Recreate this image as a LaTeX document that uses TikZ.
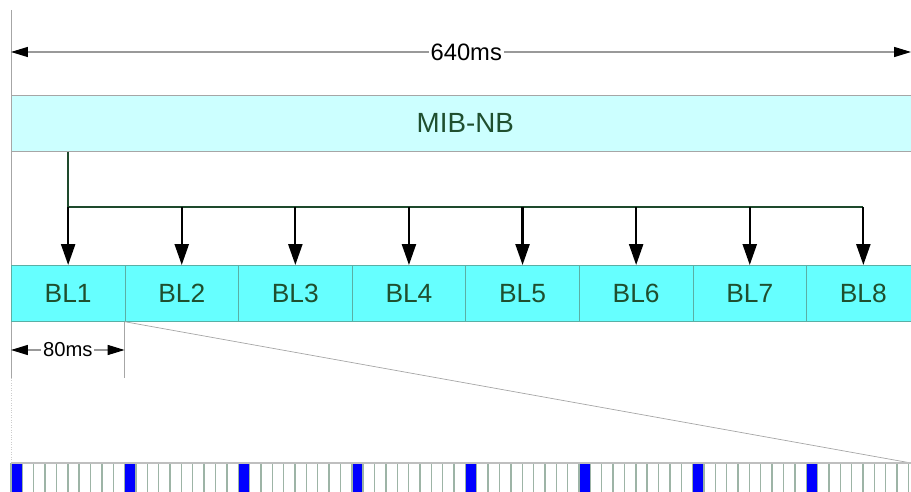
\documentclass[tikz,border=0pt]{standalone}
\usepackage{fontspec}
\setmainfont{Liberation Sans}
\usepackage{xcolor}
\usetikzlibrary{positioning,calc,arrows.meta}
\definecolor{mibfill}{HTML}{CCFFFF}
\definecolor{blfill}{HTML}{66FFFF}
\definecolor{txtgreen}{HTML}{1F4F2F}
\definecolor{linegreen}{HTML}{1E4A2C}
\definecolor{blline}{HTML}{5AAFA5}
\definecolor{gridcol}{HTML}{9DB4A6}
\tikzset{
  mibbox/.style={draw=gray!70, fill=mibfill, text=txtgreen, font=\fontsize{15.8}{18}\selectfont,
    anchor=north west, minimum width=18.16cm, minimum height=1.12cm, inner sep=0pt},
  blbox/.style={draw=blline, fill=blfill, text=txtgreen, font=\fontsize{15}{18}\selectfont,
    anchor=north west, minimum width=2.272cm, minimum height=1.12cm, inner sep=0pt},
  dimline/.style={draw=gray!80, line width=0.6pt,
    {Triangle[length=9.6pt,width=5.7pt,color=black]}-{Triangle[length=9.6pt,width=5.7pt,color=black]}},
  dimtext/.style={fill=white, inner sep=1pt},
  feed/.style={draw=linegreen, line width=1pt},
  blarrow/.style={draw=black, line width=1.2pt, -{Triangle[length=11.9pt,width=8pt]}},
}

\begin{document}
\begin{tikzpicture}[x=0.02cm,y=-0.02cm]
    \useasboundingbox (0,0) rectangle (911,492);
    \draw[gray!70] (11,10) -- (11,378);
    \draw[gray!40, densely dotted] (11,378) -- (11,463);
    \coordinate (fl) at (11,52);
    \coordinate (fr) at (911,52);
    \draw[dimline] (fl) -- (fr) node[midway, xshift=3pt, dimtext, font=\fontsize{13.5}{15}\selectfont] {640ms};
    \node[mibbox] (mib) at (11,95) {MIB-NB};
    \foreach \i in {1,...,8}
        \node[blbox] (bl\i) at ({11+113.6*(\i-1)},265) {BL\i};
    \coordinate (bus) at (0,207);
    \draw[feed] (bl1.north |- mib.south) -- (bl1.north |- bus) -- (bl8.north |- bus);
    \foreach \i in {1,...,8}
        \draw[blarrow] (bl\i.north |- bus) -- (bl\i.north);
    \coordinate (sf) at (bl2.south west |- 0,378);
    \draw[gray!70] (bl2.south west) -- (sf);
    \coordinate (al) at (11,350);
    \coordinate (ar) at (bl2.south west |- al);
    \draw[dimline] (al) -- (ar) node[midway, dimtext, font=\fontsize{11.5}{13}\selectfont] {80ms};
    \coordinate (zr) at (911,463);
    \draw[gray!70, line width=0.4pt] (bl2.south west) -- (zr);
    \foreach \k in {0,...,79} {
        \pgfmathtruncatemacro{\m}{mod(\k,10)}
        \ifnum\m=0
            \fill[blue] ({11+11.36*\k},463) rectangle ({11+11.36*(\k+1)},500);
        \fi
        \draw[gridcol, line width=0.8pt] ({11+11.36*\k},463) -- ({11+11.36*\k},500);
    }
    \draw[gray!50, line width=0.8pt] (11,463) -- (zr);
\end{tikzpicture}
\end{document}
